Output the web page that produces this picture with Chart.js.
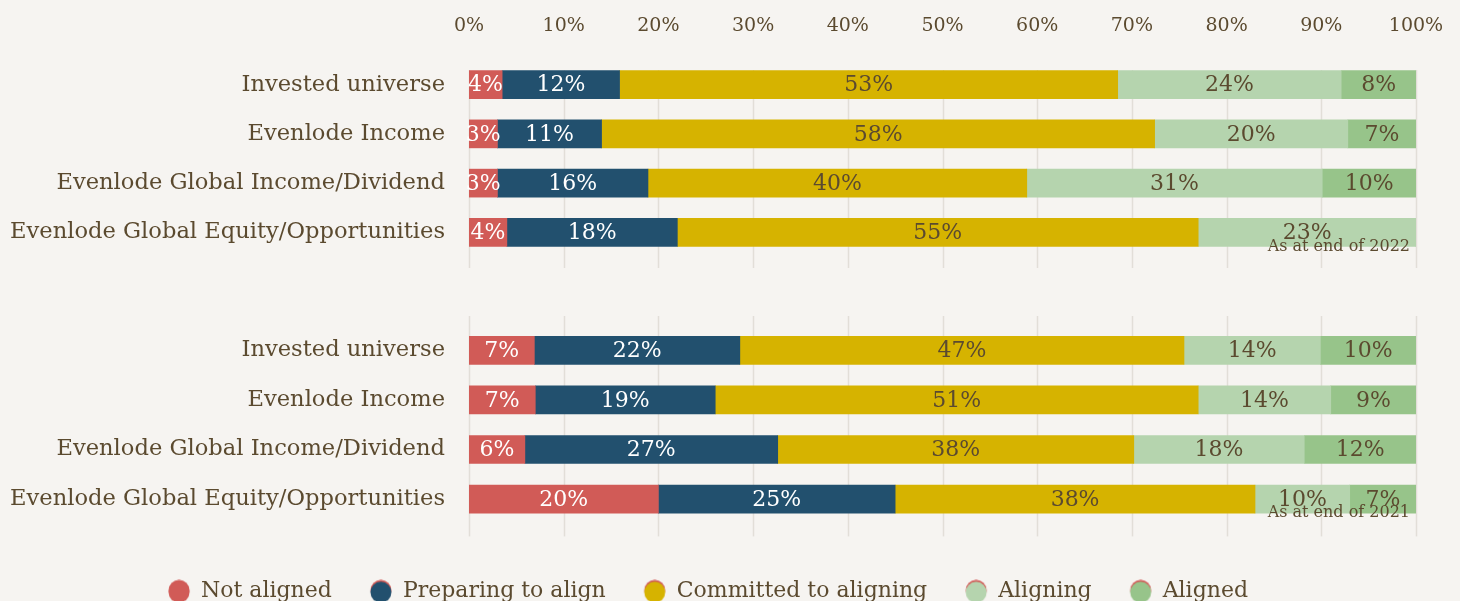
<!DOCTYPE html>
<html><head><meta charset="utf-8">
<script src="https://cdn.jsdelivr.net/npm/chart.js@4"></script>
<style>
html,body{margin:0;padding:0;background:#f6f4f1;width:1460px;height:601px;overflow:hidden}
#w1{position:absolute;left:0;top:0;width:1460px;height:300px}
#w2{position:absolute;left:0;top:300px;width:1460px;height:320px}
</style></head><body>
<div id="w1"><canvas id="c1"></canvas></div>
<div id="w2"><canvas id="c2"></canvas></div>
<script>
const categories = ['Invested universe','Evenlode Income','Evenlode Global Income/Dividend','Evenlode Global Equity/Opportunities'];
const seriesNames = ['Not aligned','Preparing to align','Committed to aligning','Aligning','Aligned'];
const xTicks = [0,10,20,30,40,50,60,70,80,90,100];

const notAligned2022 = [3.5, 3.0, 3.0, 4.0];
const preparing2022  = [12.4, 11.0, 15.9, 18.0];
const committed2022  = [52.6, 58.4, 40.0, 55.0];
const aligning2022   = [23.6, 20.4, 31.2, 23.0];
const aligned2022    = [7.9, 7.2, 9.9, 0];

const notAligned2021 = [6.9, 7.0, 5.9, 20.0];
const preparing2021  = [21.7, 19.0, 26.7, 25.0];
const committed2021  = [46.9, 51.0, 37.6, 38.0];
const aligning2021   = [14.4, 14.0, 18.0, 10.0];
const aligned2021    = [10.1, 9.0, 11.8, 7.0];

const noteTop = 'As at end of 2022';
const noteBottom = 'As at end of 2021';

const colors = ['#d15b57','#22506e','#d6b300','#b5d4ae','#97c48a'];
const labelColors = ['#ffffff','#ffffff','#5b4a2f','#5b4a2f','#5b4a2f'];
const textColor = '#5b4a2f';
const gridColor = '#e2ded8';
const FONT = "'DejaVu Serif', serif";

function makeDatasets(arrs){
  return arrs.map((d,i)=>({label:seriesNames[i],data:d,backgroundColor:colors[i],borderWidth:0,barThickness:28}));
}

const gridPlugin = {
  id:'customGrid',
  beforeDatasetsDraw(chart, args, opts){
    const {ctx, chartArea} = chart; const xs = chart.scales.x;
    ctx.save(); ctx.strokeStyle = gridColor; ctx.lineWidth = 1.5;
    xTicks.forEach(t=>{
      const x = Math.round(xs.getPixelForValue(t))+0.5;
      ctx.beginPath(); ctx.moveTo(x, chartArea.top + opts.topOff); ctx.lineTo(x, chartArea.bottom + opts.botOff); ctx.stroke();
    });
    ctx.restore();
  }
};
const labelPlugin = {
  id:'barLabels',
  afterDatasetsDraw(chart, args, opts){
    const ctx = chart.ctx; const ys = chart.scales.y;
    ctx.save();
    ctx.font = '22px ' + FONT; ctx.textAlign='center'; ctx.textBaseline='middle';
    chart.data.datasets.forEach((ds,di)=>{
      const meta = chart.getDatasetMeta(di);
      meta.data.forEach((el,i)=>{
        const v = ds.data[i]; if(!v) return;
        ctx.fillStyle = labelColors[di];
        ctx.fillText(Math.round(v)+'%', (el.x+el.base)/2, el.y+1);
      });
    });
    ctx.font = '16px ' + FONT; ctx.textAlign='right'; ctx.fillStyle = textColor;
    ctx.fillText(opts.note, chart.chartArea.right - 6, ys.getPixelForValue(categories.length-1) + 14);
    ctx.restore();
  }
};

function makeMarker(color){
  const c = document.createElement('canvas'); c.width = 24; c.height = 24;
  const g = c.getContext('2d');
  g.fillStyle = colors[0]; g.beginPath(); g.arc(12, 11, 10.5, 0, Math.PI*2); g.fill();
  g.fillStyle = color; g.beginPath(); g.arc(12, 12.8, 10.5, 0, Math.PI*2); g.fill();
  return c;
}
const markers = colors.map(makeMarker);

function yAxis(){
  return {
    stacked:true,
    afterFit(s){ s.width = 469; s.paddingTop = 0; s.paddingBottom = 0; },
    grid:{display:false, drawTicks:false}, border:{display:false},
    ticks:{font:{family:FONT,size:22.6}, color:textColor, padding:24}
  };
}

new Chart(document.getElementById('c1'), {
  type:'bar',
  data:{labels:categories, datasets:makeDatasets([notAligned2022,preparing2022,committed2022,aligning2022,aligned2022])},
  options:{
    indexAxis:'y', responsive:true, maintainAspectRatio:false, animation:false,
    layout:{padding:{left:0,right:44,top:0,bottom:43}},
    scales:{
      x:{type:'linear', position:'top', stacked:true, min:0, max:100,
        afterFit(s){ s.height = 60; s.paddingLeft = 0; s.paddingRight = 0; },
        afterBuildTicks(s){ s.ticks = xTicks.map(v=>({value:v})); },
        grid:{display:false, drawTicks:false}, border:{display:false},
        ticks:{font:{family:FONT,size:19}, color:textColor, padding:23, callback:v=>v+'%'}},
      y:yAxis()
    },
    plugins:{legend:{display:false}, tooltip:{enabled:false},
      customGrid:{topOff:10, botOff:11}, barLabels:{note:noteTop}}
  },
  plugins:[gridPlugin,labelPlugin]
});

new Chart(document.getElementById('c2'), {
  type:'bar',
  data:{labels:categories, datasets:makeDatasets([notAligned2021,preparing2021,committed2021,aligning2021,aligned2021])},
  options:{
    indexAxis:'y', responsive:true, maintainAspectRatio:false, animation:false,
    layout:{padding:{left:0,right:44,top:25.5,bottom:7.6}},
    scales:{
      x:{type:'linear', position:'bottom', stacked:true, min:0, max:100,
        afterFit(s){ s.height = 18.5; s.paddingLeft = 0; s.paddingRight = 0; },
        grid:{display:false, drawTicks:false}, border:{display:false},
        ticks:{display:false}},
      y:yAxis()
    },
    plugins:{tooltip:{enabled:false},
      legend:{display:true, position:'bottom',
        labels:{usePointStyle:true, boxWidth:22, boxHeight:22, padding:38, color:textColor,
          font:{family:FONT,size:22},
          generateLabels(chart){
            return seriesNames.map((n,i)=>({text:n, pointStyle:markers[i], fillStyle:colors[i], strokeStyle:colors[i], lineWidth:0, datasetIndex:i, hidden:false, fontColor:textColor}));
          }}},
      customGrid:{topOff:-9.5, botOff:12.5}, barLabels:{note:noteBottom}}
  },
  plugins:[gridPlugin,labelPlugin]
});
</script>
</body></html>
